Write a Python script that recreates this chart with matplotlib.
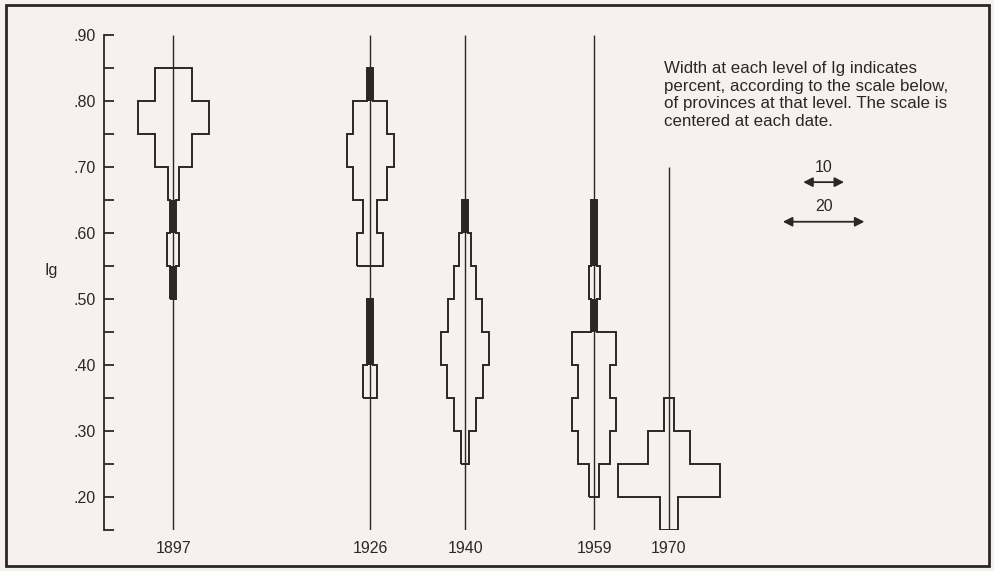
import numpy as np
import matplotlib.pyplot as plt
from matplotlib.patches import Rectangle

plt.rcParams['font.family'] = ['Liberation Sans', 'DejaVu Sans']

# dates and percent of provinces in each Ig band (bands of .05 from .15 to .90)
years = [1897, 1926, 1940, 1959, 1970]
line_tops = [0.90, 0.90, 0.90, 0.90, 0.70]
band_lo = [0.15, 0.20, 0.25, 0.30, 0.35, 0.40, 0.45, 0.50,
           0.55, 0.60, 0.65, 0.70, 0.75, 0.80, 0.85]
pct_1897 = [0, 0, 0, 0, 0, 0, 0, 1.5, 3.0, 1.5, 2.75, 9.0, 17.5, 9.0, 0]
pct_1926 = [0, 0, 0, 0, 3.4, 1.5, 1.5, 0, 6.5, 3.4, 8.2, 11.5, 8.2, 1.5, 0]
pct_1940 = [0, 0, 2.0, 5.5, 8.7, 11.7, 8.4, 5.5, 3.0, 1.5, 0, 0, 0, 0, 0]
pct_1959 = [0, 2.3, 8.0, 10.7, 8.0, 10.7, 1.5, 2.7, 1.5, 1.5, 0, 0, 0, 0, 0]
pct_1970 = [4.5, 25.0, 10.2, 2.3, 0, 0, 0, 0, 0, 0, 0, 0, 0, 0, 0]
profiles = [pct_1897, pct_1926, pct_1940, pct_1959, pct_1970]

ytick_vals = [0.20, 0.30, 0.40, 0.50, 0.60, 0.70, 0.80, 0.90]
ytick_labels = ['.20', '.30', '.40', '.50', '.60', '.70', '.80', '.90']

scale_pcts = [10, 20]

W = 0.6        # years of x-axis per percent of provinces
BAND = 0.05
ink = '#2b2727'
bg = '#f6f1ef'


def draw_profile(ax, x0, pct):
    pct = np.asarray(pct, dtype=float)
    edges = np.append(band_lo, band_lo[-1] + BAND)
    nz = pct > 0
    i = 0
    while i < len(pct):
        if not nz[i]:
            i += 1
            continue
        j = i
        while j < len(pct) and nz[j]:
            j += 1
        half = pct[i:j] * W / 2
        ax.stairs(x0 + half, edges[i:j + 1], baseline=x0 - half,
                  orientation='horizontal', color=ink, lw=1.4)
        i = j
    # very small shares are drawn as solid bars
    thin = (pct > 0) & (pct < 1.8)
    lo = np.asarray(band_lo)[thin]
    ax.barh(lo, pct[thin] * W, left=x0 - pct[thin] * W / 2, height=BAND,
            align='edge', color=ink, lw=0)


fig = plt.figure(figsize=(9.95, 5.71), dpi=100, facecolor=bg)
ax = fig.add_axes([0.1045, 0.0718, 0.885, 0.867])
ax.set_facecolor(bg)

for x0, pct in zip(years, profiles):
    draw_profile(ax, x0, pct)
ax.vlines(years, 0.15, line_tops, color=ink, lw=1.0)

ax.set_xlim(1886.8, 2016.5)
ax.set_ylim(0.15, 0.90)

for s in ['top', 'right', 'bottom']:
    ax.spines[s].set_visible(False)
ax.spines['left'].set_color(ink)
ax.spines['left'].set_linewidth(1.3)

ax.set_yticks(ytick_vals)
ax.set_yticklabels(ytick_labels)
ax.set_yticks([v - 0.05 for v in ytick_vals], minor=True)
ax.tick_params(axis='y', which='both', direction='in', length=7, width=1.3,
               color=ink, pad=6, labelsize=11.5, labelcolor=ink)
ax.set_xticks(years)
ax.set_xticklabels([str(y) for y in years])
ax.tick_params(axis='x', length=0, pad=8, labelsize=11.5, labelcolor=ink)

ax.text(-0.06, 0.543, 'Ig', transform=ax.get_yaxis_transform(),
        fontsize=11.5, color=ink, ha='center', va='center')

ax.text(1969.3, 0.860,
        'Width at each level of Ig indicates\n'
        'percent, according to the scale below,\n'
        'of provinces at that level. The scale is\n'
        'centered at each date.',
        fontsize=12.2, color=ink, ha='left', va='top', linespacing=1.2)

scale_y = [0.677, 0.617]
sx = 1992.8
for p, yy in zip(scale_pcts, scale_y):
    ax.annotate('', xy=(sx + p * W / 2, yy), xytext=(sx - p * W / 2, yy),
                arrowprops=dict(arrowstyle='<|-|>,head_length=0.55,head_width=0.28',
                                color=ink, lw=1.3, shrinkA=0, shrinkB=0))
    ax.text(sx, yy + 0.011, str(p), fontsize=11.5, color=ink,
            ha='center', va='bottom')

fig.add_artist(Rectangle((0.006, 0.009), 0.988, 0.982, transform=fig.transFigure,
                         fill=False, edgecolor=ink, lw=2.0))

fig.savefig('out.png', dpi=100, facecolor=bg)
